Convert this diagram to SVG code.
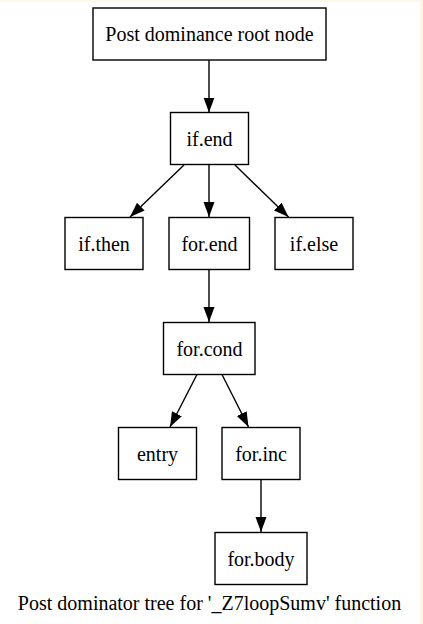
<svg xmlns="http://www.w3.org/2000/svg" width="423" height="624" viewBox="0 0 423 624">
<style>
.n rect{fill:#fff;stroke:#000;stroke-width:1.4}
text{font-family:'Liberation Serif','DejaVu Serif',serif;font-size:20px;fill:#000;text-anchor:middle}
.e{stroke:#000;stroke-width:1.4;fill:none;marker-end:url(#ah)}
</style>
<defs>
<marker id="ah" markerUnits="userSpaceOnUse" markerWidth="16" markerHeight="12" refX="15" refY="5.5" orient="auto">
<path d="M0,0 L15,5.5 L0,11 Z" fill="#000"/>
</marker>
</defs>
<rect width="423" height="624" fill="#fff"/>
<rect x="0" y="0" width="423" height="2" fill="#fdf8ea"/>
<rect x="420" y="0" width="3" height="624" fill="#fdf5e1"/>
<g id="edges">
<line class="e" x1="209" y1="60" x2="209" y2="112.5"/>
<line class="e" x1="184" y1="165" x2="130" y2="217"/>
<line class="e" x1="209" y1="165" x2="209" y2="217"/>
<line class="e" x1="235" y1="165" x2="288.5" y2="217"/>
<line class="e" x1="209" y1="270" x2="209" y2="322"/>
<line class="e" x1="197" y1="374.5" x2="170" y2="427"/>
<line class="e" x1="222" y1="374.5" x2="248.5" y2="427"/>
<line class="e" x1="261" y1="480" x2="261" y2="532"/>
</g>
<g id="root" class="n"><rect x="93" y="8" width="233" height="52"/><text x="209.5" y="41">Post dominance root node</text></g>
<g id="if_end" class="n"><rect x="170.5" y="112.5" width="78" height="52"/><text x="209.5" y="145.5">if.end</text></g>
<g id="if_then" class="n"><rect x="65" y="217.5" width="78" height="52"/><text x="104" y="250.5">if.then</text></g>
<g id="for_end" class="n"><rect x="169" y="217.5" width="80.5" height="52"/><text x="209.5" y="250.5">for.end</text></g>
<g id="if_else" class="n"><rect x="275" y="217.5" width="78" height="52"/><text x="314" y="250.5">if.else</text></g>
<g id="for_cond" class="n"><rect x="163.5" y="322.5" width="91.5" height="52"/><text x="209.5" y="355.5">for.cond</text></g>
<g id="entry" class="n"><rect x="118.5" y="427.5" width="78" height="52"/><text x="157.5" y="460.5">entry</text></g>
<g id="for_inc" class="n"><rect x="222" y="427.5" width="78" height="52"/><text x="261" y="460.5">for.inc</text></g>
<g id="for_body" class="n"><rect x="215" y="532.5" width="92" height="52"/><text x="261" y="565.5">for.body</text></g>
<text x="209.5" y="609.5">Post dominator tree for '_Z7loopSumv' function</text>
</svg>
